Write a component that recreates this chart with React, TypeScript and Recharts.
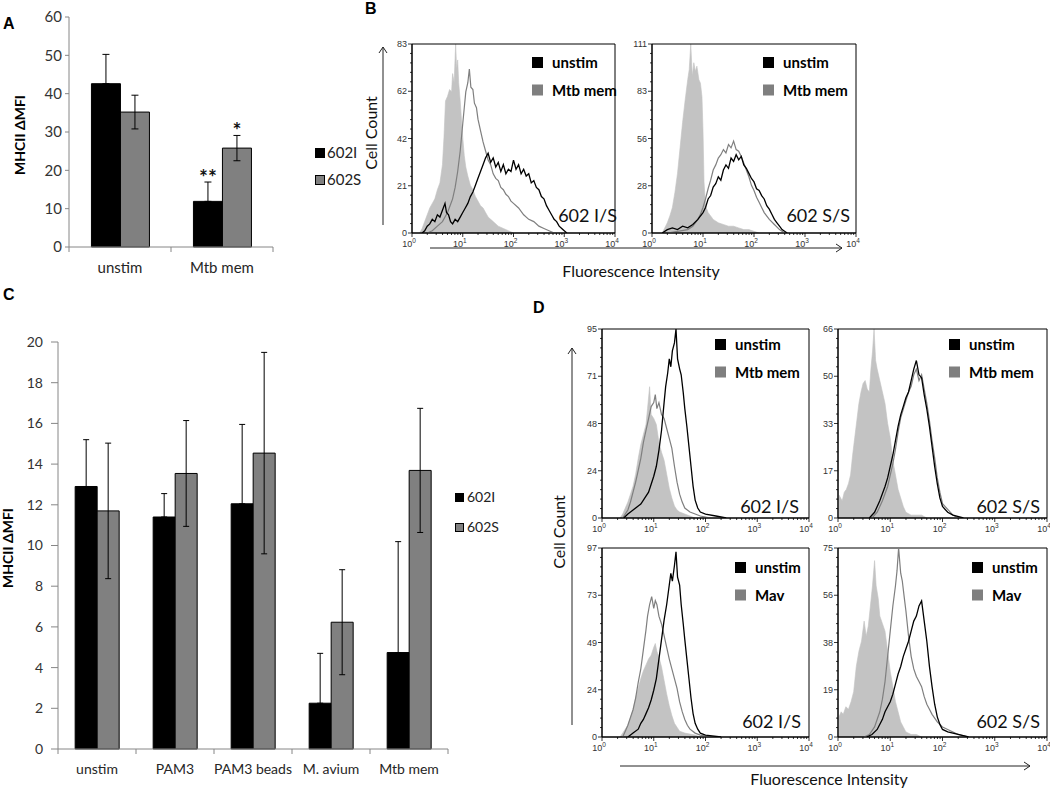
import React from 'react';
import { BarChart, Bar, XAxis, YAxis, ErrorBar, LabelList, ComposedChart, Area, Line, ReferenceArea } from 'recharts';

// ---------- Panel A ----------
const A_CATEGORIES = ['unstim', 'Mtb mem'];
const A_602I = [42.6, 11.9];
const A_602I_ERR = [7.65, 5.05];
const A_602S = [35.2, 25.8];
const A_602S_ERR = [4.4, 3.3];
const A_602I_SIG = ['', '**'];
const A_602S_SIG = ['', '*'];
const A_YTICKS = [0, 10, 20, 30, 40, 50, 60];

// ---------- Panel C ----------
const C_CATEGORIES = ['unstim', 'PAM3', 'PAM3 beads', 'M. avium', 'Mtb mem'];
const C_602I = [12.9, 11.4, 12.05, 2.25, 4.74];
const C_602I_ERR = [2.3, 1.15, 3.9, 2.45, 5.45];
const C_602S = [11.7, 13.54, 14.54, 6.23, 13.69];
const C_602S_ERR = [3.33, 2.6, 4.95, 2.58, 3.05];
const C_YTICKS = [0, 2, 4, 6, 8, 10, 12, 14, 16, 18, 20];

const SERIES_NAMES = ['602I', '602S'];

// ---------- Histograms: [log10 intensity, cell count] ----------
type Pt = [number, number];
const B1_ISO: Pt[] = [[0.15,0],[0.2,2],[0.25,5],[0.3,8],[0.35,11],[0.4,13],[0.45,15],[0.5,19],[0.55,22],[0.6,30],[0.63,42],[0.66,58],[0.7,60],[0.74,63],[0.78,62],[0.8,70],[0.83,66],[0.86,83],[0.88,72],[0.9,76],[0.92,66],[0.95,58],[0.98,48],[1.0,42],[1.03,34],[1.06,29],[1.1,25],[1.15,21],[1.2,19],[1.25,16],[1.3,14],[1.35,12],[1.4,11],[1.45,9],[1.5,7],[1.55,6],[1.6,5],[1.7,3],[1.8,2],[1.9,1],[2.0,0]];
const B1_MTB: Pt[] = [[0.3,0],[0.4,1],[0.5,3],[0.6,5],[0.65,7],[0.7,9],[0.75,12],[0.8,15],[0.85,20],[0.9,27],[0.95,36],[1.0,48],[1.03,55],[1.06,62],[1.1,66],[1.13,72],[1.16,64],[1.2,63],[1.23,57],[1.27,55],[1.3,50],[1.35,45],[1.4,40],[1.45,36],[1.5,32],[1.55,30],[1.6,26],[1.65,24],[1.7,23],[1.75,20],[1.8,19],[1.85,17],[1.9,16],[1.95,14],[2.0,13],[2.1,11],[2.2,8],[2.3,6],[2.4,5],[2.5,3],[2.6,2],[2.7,1],[2.8,0]];
const B1_UNSTIM: Pt[] = [[0.2,0],[0.25,1],[0.3,3],[0.35,4],[0.4,6],[0.45,5],[0.5,8],[0.55,7],[0.6,10],[0.65,13],[0.68,9],[0.72,8],[0.76,5],[0.8,4],[0.85,6],[0.9,5],[0.95,7],[1.0,9],[1.05,11],[1.1,13],[1.15,16],[1.2,18],[1.25,21],[1.3,24],[1.35,27],[1.4,30],[1.45,33],[1.5,35],[1.55,31],[1.6,33],[1.65,29],[1.7,31],[1.75,27],[1.8,30],[1.85,26],[1.9,28],[1.95,27],[2.0,32],[2.05,28],[2.1,30],[2.15,26],[2.2,28],[2.25,25],[2.3,26],[2.35,22],[2.4,23],[2.45,20],[2.5,19],[2.55,16],[2.6,15],[2.65,12],[2.7,10],[2.75,8],[2.8,6],[2.85,5],[2.9,3],[2.95,2],[3.0,1],[3.05,0]];

const B2_ISO: Pt[] = [[0.2,0],[0.25,3],[0.3,6],[0.35,10],[0.4,15],[0.45,24],[0.5,35],[0.55,50],[0.6,65],[0.65,78],[0.7,90],[0.73,96],[0.76,111],[0.79,92],[0.82,100],[0.85,95],[0.88,98],[0.92,90],[0.95,88],[0.98,80],[1.0,60],[1.02,30],[1.05,16],[1.1,12],[1.15,10],[1.2,8],[1.3,6],[1.4,5],[1.5,4],[1.6,4],[1.7,3],[1.8,2],[1.9,2],[2.0,1],[2.1,0]];
const B2_MTB: Pt[] = [[0.3,0],[0.5,1],[0.7,2],[0.8,4],[0.9,8],[0.95,11],[1.0,15],[1.05,20],[1.1,26],[1.15,31],[1.2,37],[1.25,40],[1.3,44],[1.35,46],[1.4,49],[1.45,47],[1.5,52],[1.55,50],[1.6,54],[1.65,49],[1.7,48],[1.75,45],[1.8,41],[1.85,37],[1.9,33],[1.95,28],[2.0,25],[2.05,21],[2.1,18],[2.15,15],[2.2,12],[2.3,8],[2.4,5],[2.5,2],[2.6,0]];
const B2_UNSTIM: Pt[] = [[0.2,0],[0.3,2],[0.4,3],[0.5,2],[0.6,4],[0.7,3],[0.8,5],[0.9,8],[1.0,12],[1.05,15],[1.1,20],[1.15,22],[1.2,27],[1.25,29],[1.3,33],[1.35,31],[1.4,37],[1.45,40],[1.5,38],[1.55,44],[1.6,42],[1.65,46],[1.7,43],[1.75,45],[1.8,40],[1.85,38],[1.9,35],[1.95,32],[2.0,30],[2.05,26],[2.1,25],[2.15,22],[2.2,20],[2.25,16],[2.3,14],[2.35,11],[2.4,8],[2.45,6],[2.5,4],[2.55,2],[2.6,1],[2.65,0]];

const D1_ISO: Pt[] = [[0.35,0],[0.4,2],[0.45,5],[0.5,8],[0.55,12],[0.6,16],[0.65,22],[0.7,30],[0.75,37],[0.8,42],[0.85,47],[0.88,55],[0.92,66],[0.95,52],[1.0,50],[1.05,47],[1.1,38],[1.15,33],[1.2,29],[1.25,22],[1.3,15],[1.35,10],[1.4,6],[1.45,4],[1.5,3],[1.6,2],[1.7,1],[1.8,0]];
const D1_MTB: Pt[] = [[0.4,0],[0.45,2],[0.5,4],[0.55,8],[0.6,13],[0.65,18],[0.7,24],[0.75,30],[0.8,38],[0.85,44],[0.9,50],[0.95,56],[1.0,58],[1.03,62],[1.06,55],[1.1,58],[1.15,52],[1.2,50],[1.25,45],[1.3,40],[1.35,35],[1.4,26],[1.45,18],[1.5,12],[1.55,8],[1.6,5],[1.7,3],[1.8,2],[1.9,1],[2.1,0]];
const D1_UNSTIM: Pt[] = [[0.42,0],[0.5,2],[0.6,4],[0.7,6],[0.75,7],[0.8,9],[0.85,11],[0.9,13],[0.95,17],[1.0,21],[1.05,26],[1.1,34],[1.15,44],[1.2,58],[1.23,66],[1.27,73],[1.3,80],[1.33,76],[1.36,84],[1.4,88],[1.43,95],[1.46,80],[1.5,75],[1.53,72],[1.57,63],[1.6,55],[1.64,46],[1.68,36],[1.72,26],[1.76,16],[1.8,9],[1.85,5],[1.9,3],[2.0,2],[2.2,1],[2.4,0]];

const D2_ISO: Pt[] = [[0.02,8],[0.08,6],[0.12,9],[0.16,10],[0.2,12],[0.24,15],[0.28,22],[0.32,28],[0.36,34],[0.4,40],[0.44,44],[0.48,47],[0.52,48],[0.56,45],[0.6,44],[0.63,52],[0.66,58],[0.69,66],[0.72,55],[0.75,52],[0.8,48],[0.85,44],[0.9,40],[0.95,33],[1.0,28],[1.05,20],[1.1,15],[1.15,10],[1.2,7],[1.25,4],[1.3,2],[1.4,1],[1.6,1],[1.7,0]];
const D2_MTB: Pt[] = [[0.65,0],[0.75,2],[0.85,6],[0.95,11],[1.0,15],[1.05,19],[1.1,24],[1.15,30],[1.2,35],[1.25,38],[1.3,41],[1.35,44],[1.4,46],[1.45,50],[1.5,52],[1.55,48],[1.6,50],[1.65,45],[1.7,40],[1.75,34],[1.8,27],[1.85,21],[1.9,14],[1.95,9],[2.0,5],[2.1,3],[2.2,1],[2.3,0]];
const D2_UNSTIM: Pt[] = [[0.6,0],[0.7,2],[0.8,6],[0.9,11],[0.95,14],[1.0,18],[1.05,22],[1.1,27],[1.15,32],[1.2,36],[1.25,39],[1.3,42],[1.35,44],[1.4,48],[1.45,52],[1.5,55],[1.55,50],[1.6,49],[1.65,43],[1.7,38],[1.75,32],[1.8,25],[1.85,18],[1.9,12],[1.95,7],[2.0,4],[2.1,2],[2.2,1],[2.4,0]];

const D3_ISO: Pt[] = [[0.35,0],[0.4,2],[0.5,6],[0.6,14],[0.65,20],[0.7,25],[0.75,30],[0.8,34],[0.85,37],[0.9,40],[0.95,42],[1.0,46],[1.03,48],[1.06,44],[1.1,41],[1.15,36],[1.2,29],[1.25,22],[1.3,16],[1.35,11],[1.4,7],[1.45,5],[1.5,3],[1.6,2],[1.8,1],[1.9,0]];
const D3_MAV: Pt[] = [[0.4,0],[0.45,3],[0.5,6],[0.55,10],[0.6,14],[0.65,20],[0.7,28],[0.75,35],[0.8,45],[0.85,55],[0.88,62],[0.92,68],[0.96,72],[1.0,66],[1.03,70],[1.06,68],[1.1,62],[1.15,58],[1.2,52],[1.25,46],[1.3,40],[1.35,35],[1.4,30],[1.45,25],[1.5,18],[1.55,13],[1.6,9],[1.65,6],[1.7,4],[1.8,2],[1.9,1],[2.1,0]];
const D3_UNSTIM: Pt[] = [[0.5,0],[0.6,2],[0.7,4],[0.75,7],[0.8,9],[0.85,12],[0.9,15],[0.95,19],[1.0,24],[1.05,30],[1.1,40],[1.15,50],[1.2,60],[1.25,68],[1.3,78],[1.33,84],[1.36,80],[1.4,88],[1.43,95],[1.46,82],[1.5,78],[1.53,68],[1.57,58],[1.6,50],[1.64,40],[1.68,30],[1.72,20],[1.76,12],[1.8,7],[1.85,4],[1.9,2],[2.0,1],[2.3,0]];

const D4_ISO: Pt[] = [[0.02,8],[0.06,10],[0.1,9],[0.15,12],[0.2,11],[0.25,14],[0.3,18],[0.35,28],[0.4,34],[0.45,38],[0.5,46],[0.54,40],[0.58,44],[0.62,52],[0.66,60],[0.7,70],[0.73,60],[0.77,55],[0.8,48],[0.85,45],[0.9,42],[0.95,34],[1.0,26],[1.05,20],[1.1,14],[1.15,10],[1.2,6],[1.25,4],[1.3,2],[1.4,1],[1.5,1],[1.6,0]];
const D4_MAV: Pt[] = [[0.5,0],[0.6,1],[0.7,4],[0.8,10],[0.85,15],[0.9,22],[0.95,32],[1.0,42],[1.05,52],[1.1,60],[1.13,66],[1.16,75],[1.2,65],[1.23,62],[1.27,55],[1.3,50],[1.35,40],[1.4,32],[1.45,27],[1.5,24],[1.55,22],[1.6,20],[1.65,16],[1.7,13],[1.75,11],[1.8,9],[1.9,6],[2.0,4],[2.1,3],[2.2,2],[2.3,1],[2.5,0]];
const D4_UNSTIM: Pt[] = [[0.55,0],[0.65,1],[0.75,3],[0.85,7],[0.9,10],[0.95,12],[1.0,14],[1.05,17],[1.1,21],[1.15,25],[1.2,28],[1.25,32],[1.3,35],[1.35,38],[1.4,42],[1.45,46],[1.5,48],[1.55,52],[1.6,54],[1.65,46],[1.7,38],[1.75,28],[1.8,20],[1.85,13],[1.9,8],[1.95,5],[2.0,3],[2.1,2],[2.3,1],[2.5,0]];

const B1_YLABELS = ['0', '21', '42', '62', '83'];
const B2_YLABELS = ['0', '28', '56', '83', '111'];
const D1_YLABELS = ['0', '24', '48', '71', '95'];
const D2_YLABELS = ['0', '17', '33', '50', '66'];
const D3_YLABELS = ['0', '24', '49', '73', '97'];
const D4_YLABELS = ['0', '19', '38', '56', '75'];
const X_DECADE_LABELS = ['0', '1', '2', '3', '4'];

// log axis ticks (major decades + minor ticks)
const X_TICKS: number[] = [];
for (let d = 0; d < 4; d++) {
  X_TICKS.push(d);
  for (let m = 2; m <= 9; m++) X_TICKS.push(d + Math.log10(m));
}
X_TICKS.push(4);

function mergeSeries(iso: Pt[], stim: Pt[], unstim: Pt[]) {
  const rows = new Map<number, any>();
  const put = (arr: Pt[], key: string) =>
    arr.forEach(([x, y]) => {
      const k = Math.round(x * 1000) / 1000;
      const r = rows.get(k) ?? { x: k };
      r[key] = y;
      rows.set(k, r);
    });
  put(iso, 'iso');
  put(stim, 'stim');
  put(unstim, 'unstim');
  return Array.from(rows.values()).sort((a, b) => a.x - b.x);
}

const TICK_FONT = '"Liberation Sans", Arial, sans-serif';

const XLogTick = (p: any) => {
  const { x, y, payload } = p;
  const v = payload.value;
  const major = Math.abs(v - Math.round(v)) < 1e-6;
  if (!major) return <line x1={x} y1={y} x2={x} y2={y + 2} stroke="#000" strokeWidth={0.8} />;
  return (
    <g>
      <line x1={x} y1={y} x2={x} y2={y + 4} stroke="#000" strokeWidth={0.8} />
      <text x={x - 3} y={y + 14} textAnchor="middle" fontSize={9} fill="#333" fontFamily={TICK_FONT}>
        10
        <tspan dy={-4} fontSize={6.5}>{X_DECADE_LABELS[Math.round(v)]}</tspan>
      </text>
    </g>
  );
};

const YCountTick = (p: any) => {
  const { x, y, payload, ymax, labels } = p;
  const q = (payload.value / ymax) * 4;
  const major = Math.abs(q - Math.round(q)) < 1e-6;
  if (!major) return <line x1={x - 2} y1={y} x2={x} y2={y} stroke="#000" strokeWidth={0.8} />;
  return (
    <g>
      <line x1={x - 4} y1={y} x2={x} y2={y} stroke="#000" strokeWidth={0.8} />
      <text x={x - 5} y={y + 3} textAnchor="end" fontSize={9} fill="#333" fontFamily={TICK_FONT}>
        {labels[Math.round(q)]}
      </text>
    </g>
  );
};

type HistCfg = {
  left: number; top: number; w: number; h: number; ymax: number; ylabels: string[];
  iso: Pt[]; stim: Pt[]; unstim: Pt[];
  stimName: string; tag: string; legendX: number; legendTop: number; tagRight: number; tagBase: number;
};

const HISTS: HistCfg[] = [
  { left: 412, top: 44, w: 203, h: 189, ymax: 83, ylabels: B1_YLABELS, iso: B1_ISO, stim: B1_MTB, unstim: B1_UNSTIM, stimName: 'Mtb mem', tag: '602 I/S', legendX: 532, legendTop: 57, tagRight: 617, tagBase: 222 },
  { left: 652, top: 44, w: 204, h: 189, ymax: 111, ylabels: B2_YLABELS, iso: B2_ISO, stim: B2_MTB, unstim: B2_UNSTIM, stimName: 'Mtb mem', tag: '602 S/S', legendX: 763, legendTop: 57, tagRight: 850, tagBase: 222 },
  { left: 602, top: 329, w: 207, h: 189, ymax: 95, ylabels: D1_YLABELS, iso: D1_ISO, stim: D1_MTB, unstim: D1_UNSTIM, stimName: 'Mtb mem', tag: '602 I/S', legendX: 715, legendTop: 339, tagRight: 799, tagBase: 513 },
  { left: 838, top: 329, w: 209, h: 189, ymax: 66, ylabels: D2_YLABELS, iso: D2_ISO, stim: D2_MTB, unstim: D2_UNSTIM, stimName: 'Mtb mem', tag: '602 S/S', legendX: 949, legendTop: 339, tagRight: 1040, tagBase: 513 },
  { left: 602, top: 548, w: 207, h: 189, ymax: 97, ylabels: D3_YLABELS, iso: D3_ISO, stim: D3_MAV, unstim: D3_UNSTIM, stimName: 'Mav', tag: '602 I/S', legendX: 735, legendTop: 562, tagRight: 801, tagBase: 728 },
  { left: 838, top: 548, w: 209, h: 189, ymax: 75, ylabels: D4_YLABELS, iso: D4_ISO, stim: D4_MAV, unstim: D4_UNSTIM, stimName: 'Mav', tag: '602 S/S', legendX: 972, legendTop: 562, tagRight: 1040, tagBase: 728 },
];

function Hist({ cfg }: { cfg: HistCfg }) {
  const { left, top, w, h, ymax, ylabels, iso, stim, unstim } = cfg;
  const data = mergeSeries(iso, stim, unstim);
  const ML = 34, MT = 6, MR = 8, XH = 22;
  const yt: number[] = [];
  for (let j = 0; j <= 20; j++) yt.push((ymax * j) / 20);
  return (
    <div style={{ position: 'absolute', left: left - ML, top: top - MT }}>
      <ComposedChart width={w + ML + MR} height={h + MT + XH} data={data} margin={{ top: MT, right: MR, left: 0, bottom: 0 }}>
        <XAxis type="number" dataKey="x" domain={[0, 4]} ticks={X_TICKS} interval={0} height={XH} tickSize={0} tickMargin={0} tickLine={false} axisLine={{ stroke: '#000' }} tick={XLogTick} allowDataOverflow />
        <YAxis type="number" domain={[0, ymax]} ticks={yt} interval={0} width={ML} tickSize={0} tickMargin={0} tickLine={false} axisLine={{ stroke: '#000' }} tick={(p: any) => <YCountTick {...p} ymax={ymax} labels={ylabels} />} allowDataOverflow />
        <Area dataKey="iso" type="linear" fill="#c3c3c3" fillOpacity={1} stroke="#c3c3c3" strokeWidth={0.6} connectNulls dot={false} activeDot={false} isAnimationActive={false} />
        <Line dataKey="stim" type="linear" stroke="#7f7f7f" strokeWidth={1.2} connectNulls dot={false} activeDot={false} isAnimationActive={false} />
        <Line dataKey="unstim" type="linear" stroke="#000" strokeWidth={1.3} connectNulls dot={false} activeDot={false} isAnimationActive={false} />
        <ReferenceArea x1={0} x2={4} y1={0} y2={ymax} fillOpacity={0} stroke="#000" strokeWidth={1} ifOverflow="visible" />
      </ComposedChart>
    </div>
  );
}

const CatTick = (p: any) => {
  const { x, y, payload, index, band, count, fontSize, dy } = p;
  return (
    <g>
      <line x1={x - band / 2} y1={y} x2={x - band / 2} y2={y + 5} stroke="#868686" />
      {index === count - 1 && <line x1={x + band / 2} y1={y} x2={x + band / 2} y2={y + 5} stroke="#868686" />}
      <text x={x} y={y + dy} textAnchor="middle" fontSize={fontSize} fill="#262626" fontFamily="Lato">
        {payload.value}
      </text>
    </g>
  );
};

const starLabel = (errs: number[], vals: number[]) => (p: any) => {
  const { x, y, width, height, value, index } = p;
  if (!value) return null;
  const errPx = (errs[index] * Math.abs(height)) / vals[index];
  return (
    <text x={x + width / 2} y={y - errPx + 3} textAnchor="middle" fontSize={21} fontWeight="bold" fill="#111" fontFamily="Lato">
      {value}
    </text>
  );
};

// 602I error bars are drawn upward only (lower half hidden by the black bar)
const A_DATA = A_CATEGORIES.map((c, i) => ({ cat: c, v1: A_602I[i], e1: [0, A_602I_ERR[i]], v2: A_602S[i], e2: A_602S_ERR[i], s1: A_602I_SIG[i], s2: A_602S_SIG[i] }));
const C_DATA = C_CATEGORIES.map((c, i) => ({ cat: c, v1: C_602I[i], e1: [0, C_602I_ERR[i]], v2: C_602S[i], e2: C_602S_ERR[i] }));

function PanelA() {
  return (
    <div style={{ position: 'absolute', left: 0, top: 0 }}>
      <BarChart width={380} height={290} data={A_DATA} margin={{ top: 17, right: 107, left: 29, bottom: 13 }} barCategoryGap="22%" barGap={0}>
        <XAxis dataKey="cat" height={30} interval={0} tickSize={0} tickMargin={0} tickLine={false} axisLine={{ stroke: '#868686' }} tick={(p: any) => <CatTick {...p} band={102} count={2} fontSize={15} dy={26} />} />
        <YAxis width={40} domain={[0, 60]} ticks={A_YTICKS} interval={0} tickSize={4} tickMargin={3} axisLine={{ stroke: '#868686' }} tickLine={{ stroke: '#868686' }} tick={{ fill: '#333', fontSize: 15, fontFamily: 'Lato' }} />
        <Bar dataKey="v1" name={SERIES_NAMES[0]} fill="#000" stroke="#000" isAnimationActive={false}>
          <ErrorBar dataKey="e1" width={3.5} stroke="#000" strokeWidth={1} direction="y" />
          <LabelList dataKey="s1" content={starLabel(A_602I_ERR, A_602I)} />
        </Bar>
        <Bar dataKey="v2" name={SERIES_NAMES[1]} fill="#808080" stroke="#000" isAnimationActive={false}>
          <ErrorBar dataKey="e2" width={3.5} stroke="#000" strokeWidth={1} direction="y" />
          <LabelList dataKey="s2" content={starLabel(A_602S_ERR, A_602S)} />
        </Bar>
      </BarChart>
    </div>
  );
}

function PanelC() {
  return (
    <div style={{ position: 'absolute', left: 0, top: 320 }}>
      <BarChart width={540} height={460} data={C_DATA} margin={{ top: 22, right: 92, left: 28, bottom: 1 }} barCategoryGap="22%" barGap={0}>
        <XAxis dataKey="cat" height={30} interval={0} tickSize={0} tickMargin={0} tickLine={false} axisLine={{ stroke: '#868686' }} tick={(p: any) => <CatTick {...p} band={78} count={5} fontSize={14} dy={25} />} />
        <YAxis width={30} domain={[0, 20]} ticks={C_YTICKS} interval={0} tickSize={7} tickMargin={8} axisLine={{ stroke: '#868686' }} tickLine={{ stroke: '#868686' }} tick={{ fill: '#333', fontSize: 14, fontFamily: 'Lato' }} />
        <Bar dataKey="v1" name={SERIES_NAMES[0]} fill="#000" stroke="#000" isAnimationActive={false}>
          <ErrorBar dataKey="e1" width={3} stroke="#000" strokeWidth={1} direction="y" />
        </Bar>
        <Bar dataKey="v2" name={SERIES_NAMES[1]} fill="#808080" stroke="#000" isAnimationActive={false}>
          <ErrorBar dataKey="e2" width={3} stroke="#000" strokeWidth={1} direction="y" />
        </Bar>
      </BarChart>
    </div>
  );
}

function Overlay() {
  const letter = { fontFamily: TICK_FONT, fontWeight: 'bold' as const, fontSize: 16, fill: '#000' };
  const axisTitle = { fontFamily: 'Lato', fontSize: 16, fill: '#111' };
  return (
    <svg width={1050} height={790} style={{ position: 'absolute', left: 0, top: 0, pointerEvents: 'none' }}>
      <text x={3} y={28.5} {...letter}>A</text>
      <text x={365} y={13.5} {...letter}>B</text>
      <text x={3} y={300} {...letter}>C</text>
      <text x={533} y={313} {...letter}>D</text>

      <text transform="translate(25,135) rotate(-90)" textAnchor="middle" fontFamily="Lato" fontWeight="bold" fontSize={14} fill="#000">MHCII ΔMFI</text>
      <text transform="translate(13,548) rotate(-90)" textAnchor="middle" fontFamily="Lato" fontWeight="bold" fontSize={14} fill="#000">MHCII ΔMFI</text>

      {/* bar chart legends */}
      <rect x={315.5} y={148.5} width={9} height={9} fill="#000" stroke="#000" />
      <text x={327} y={157.5} fontFamily="Lato" fontSize={15} fill="#222">{SERIES_NAMES[0]}</text>
      <rect x={315.5} y={175.5} width={9} height={9} fill="#808080" stroke="#000" />
      <text x={327} y={184.5} fontFamily="Lato" fontSize={15} fill="#222">{SERIES_NAMES[1]}</text>

      <rect x={455.5} y={493.5} width={8} height={8} fill="#000" stroke="#000" />
      <text x={467} y={502} fontFamily="Lato" fontSize={14} fill="#222">{SERIES_NAMES[0]}</text>
      <rect x={455.5} y={523.5} width={8} height={8} fill="#808080" stroke="#000" />
      <text x={467} y={532} fontFamily="Lato" fontSize={14} fill="#222">{SERIES_NAMES[1]}</text>

      {/* histogram legends and tags */}
      {HISTS.map((c, i) => (
        <g key={i}>
          <rect x={c.legendX} y={c.legendTop} width={11} height={11} fill="#000" />
          <text x={c.legendX + 20} y={c.legendTop + 11} fontFamily="Lato" fontWeight="bold" fontSize={15} fill="#000">unstim</text>
          <rect x={c.legendX} y={c.legendTop + 27.5} width={11} height={11} fill="#7f7f7f" />
          <text x={c.legendX + 20} y={c.legendTop + 38.5} fontFamily="Lato" fontWeight="bold" fontSize={15} fill="#000">{c.stimName}</text>
          <text x={c.tagRight} y={c.tagBase} textAnchor="end" fontFamily="Lato" fontSize={18} fill="#111">{c.tag}</text>
        </g>
      ))}

      {/* B axis titles and arrows */}
      <text transform="translate(377,133) rotate(-90)" textAnchor="middle" {...axisTitle}>Cell Count</text>
      <line x1={383} y1={225} x2={383} y2={47} stroke="#222" strokeWidth={1} />
      <polyline points="379,53 383,47 387,53" fill="none" stroke="#222" strokeWidth={1} />
      <line x1={430} y1={248} x2={842} y2={248} stroke="#222" strokeWidth={1} />
      <polyline points="836,244 842,248 836,252" fill="none" stroke="#222" strokeWidth={1} />
      <text x={641} y={277} textAnchor="middle" {...axisTitle}>Fluorescence Intensity</text>

      {/* D axis titles and arrows */}
      <text transform="translate(565,532) rotate(-90)" textAnchor="middle" {...axisTitle}>Cell Count</text>
      <line x1={572} y1={725} x2={572} y2={348} stroke="#222" strokeWidth={1} />
      <polyline points="568,354 572,348 576,354" fill="none" stroke="#222" strokeWidth={1} />
      <line x1={620} y1={766} x2={1030} y2={766} stroke="#222" strokeWidth={1} />
      <polyline points="1024,762 1030,766 1024,770" fill="none" stroke="#222" strokeWidth={1} />
      <text x={829} y={785} textAnchor="middle" {...axisTitle}>Fluorescence Intensity</text>
    </svg>
  );
}

export default function App() {
  return (
    <div style={{ position: 'absolute', left: 0, top: 0, width: 1050, height: 790, background: '#fff', fontFamily: 'Lato', overflow: 'hidden' }}>
      <PanelA />
      <PanelC />
      {HISTS.map((c, i) => (
        <Hist key={i} cfg={c} />
      ))}
      <Overlay />
    </div>
  );
}
